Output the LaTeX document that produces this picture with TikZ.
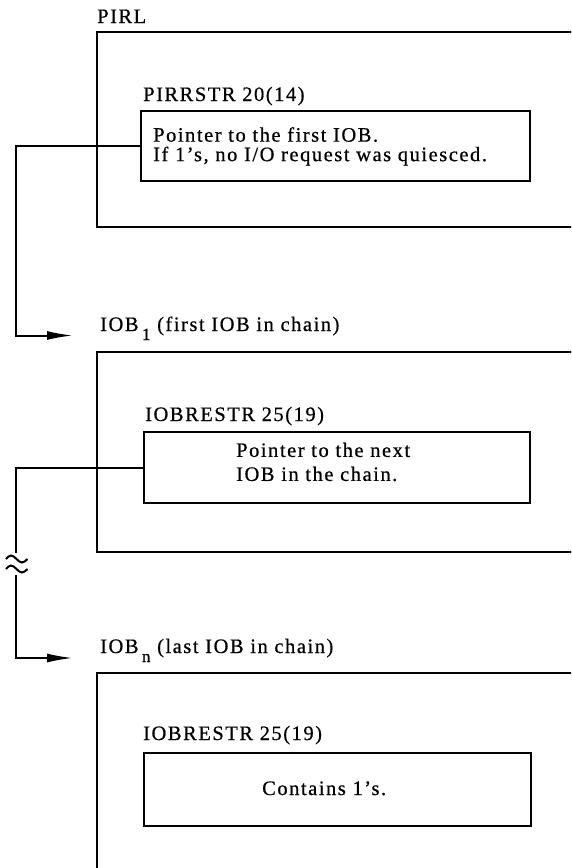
\documentclass[tikz,border=0pt]{standalone}
\usepackage{fontspec}
\setmainfont{Liberation Serif}[LetterSpace=7.5, FakeBold=0.6]
\usetikzlibrary{arrows.meta, positioning}

\begin{document}
\begin{tikzpicture}[x=1pt, y=-1pt, >={Latex[length=26pt, width=9pt]},
      frame/.style={line width=2.8pt},
      fld/.style={draw, line width=2pt, anchor=north west, inner sep=0pt},
      lnk/.style={line width=2pt},
      lbl/.style={anchor=base west, inner sep=0pt, font=\fontsize{20.5}{20}\selectfont},
      txt/.style={anchor=north west, inner sep=0pt, align=left}]

    % ---- Page ----
    \useasboundingbox (0,0) rectangle (571,868);
    \clip (0,0) rectangle (571,868);

    % ---- Layout ----
    \def\fx{97}      % frame left x
    \def\rx{580}     % frames run off the right edge
    \def\vx{16}      % trunk x of the chain lines

    % ---- PIRL ----
    \node[lbl] (pirl) at (\fx, 23) {PIRL};
    \draw[frame] (\rx, 32) -| (\fx, 227) -- (\rx, 227);
    \node[lbl] (pirrstr) at (143, 101) {PIRRSTR 20(14)};
    \node[fld, minimum width=389pt, minimum height=70pt] (ib1) at (140, 110) {};
    \node[txt, font=\fontsize{20.5}{19.5}\selectfont] (t1) at (153, 127)
        {Pointer to the first IOB.\\If 1's, no I/O request was quiesced.};

    % ---- IOB 1 ----
    \node[lbl] (iob1) at (100, 331)
        {IOB\,\raisebox{-9pt}{\fontsize{17}{17}\selectfont 1} (first IOB in chain)};
    \draw[frame] (\rx, 352) -| (\fx, 552) -- (\rx, 552);
    \node[lbl] (rstr1) at (145, 421) {IOBRESTR 25(19)};
    \node[fld, minimum width=386pt, minimum height=71pt] (ib2) at (143, 431) {};
    \node[txt, font=\fontsize{20.5}{24}\selectfont] (t2) at (236, 442.5)
        {Pointer to the next\\IOB in the chain.};

    % ---- IOB n ----
    \node[lbl] (iobn) at (100, 653)
        {IOB\,\raisebox{-9pt}{\fontsize{17}{17}\selectfont n} (last IOB in chain)};
    \draw[frame] (\rx, 673) -| (\fx, 880);
    \node[lbl] (rstr2) at (143, 740) {IOBRESTR 25(19)};
    \node[fld, minimum width=387pt, minimum height=73pt] (ib3) at (143, 752) {};
    \node[lbl] (t3) at (262, 795) {Contains 1's.};

    % ---- Chain links ----
    \coordinate (in1) at (73, 335.5);
    \coordinate (in2) at (73, 658);
    \coordinate (brk-top) at (\vx, 553);
    \coordinate (brk-bot) at (\vx, 575);

    \draw[lnk, ->] (ib1.west) -| (\vx, 335.5) -- (in1);
    \draw[lnk] (ib2.west) -| (brk-top);
    \draw[lnk, ->] (brk-bot) |- (in2);

    % break mark on the trunk
    \draw[lnk] (6, 559) sin (11, 555.5) cos (16.5, 559) sin (22, 562.5) cos (27.5, 559);
    \draw[lnk] (6, 569) sin (11, 565.5) cos (16.5, 569) sin (22, 572.5) cos (27.5, 569);

\end{tikzpicture}
\end{document}
